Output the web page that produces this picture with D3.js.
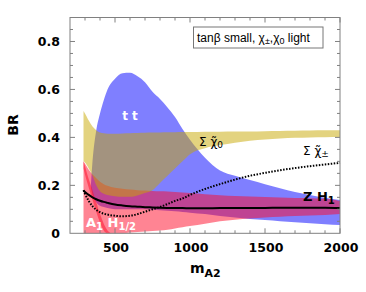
<!DOCTYPE html>
<html><head><meta charset="utf-8">
<script src="https://cdn.jsdelivr.net/npm/d3@7"></script>
<style>body{margin:0;background:#fff}svg{display:block}</style>
</head><body><svg id="c" width="366" height="292"></svg>
<script>
const masses   = [290,300,325,350,375,400,425,450,500,550,600,650,700,750,800,850,900,950,1000,1100,1200,1300,1400,1500,1600,1700,1800,1900,2000];
const ttMass   = [340,350,375,400,425,450,500,550,600,650,700,750,800,850,900,950,1000,1100,1200,1300,1400,1500,1600,1700,1800,1900,2000];
const ttLow    = [0.19,0.16,0.13,0.115,0.11,0.105,0.10,0.10,0.10,0.10,0.10,0.098,0.096,0.094,0.092,0.089,0.086,0.08,0.072,0.066,0.06,0.055,0.05,0.046,0.042,0.038,0.035];
const ttHigh   = [0.21,0.30,0.43,0.50,0.555,0.60,0.645,0.668,0.67,0.655,0.63,0.59,0.56,0.525,0.485,0.435,0.39,0.315,0.262,0.24,0.222,0.205,0.188,0.172,0.16,0.148,0.139];
const chi0Low  = [0.30,0.295,0.27,0.24,0.20,0.175,0.165,0.16,0.155,0.152,0.152,0.158,0.168,0.18,0.21,0.24,0.27,0.30,0.33,0.355,0.368,0.378,0.386,0.391,0.395,0.398,0.40,0.401,0.402];
const chi0High = [0.51,0.50,0.47,0.445,0.43,0.42,0.417,0.415,0.415,0.416,0.417,0.418,0.419,0.42,0.42,0.421,0.421,0.422,0.422,0.423,0.424,0.425,0.425,0.426,0.427,0.428,0.429,0.43,0.43];
const ah1Low   = [0.27,0.245,0.19,0.14,0.09,0.045,0.012,0,0,0,0.003,0.005,0.008,0.01,0.012,0.015,0.02,0.025,0.03,0.04,0.05,0.057,0.062,0.066,0.069,0.072,0.074,0.076,0.08];
const ah1High  = [0.30,0.29,0.265,0.245,0.23,0.215,0.205,0.198,0.19,0.186,0.183,0.18,0.178,0.176,0.175,0.174,0.172,0.17,0.168,0.163,0.159,0.156,0.153,0.151,0.149,0.147,0.146,0.144,0.135];
const ah2Mass  = [290,300,325,350,375,400,425,450,475];
const ah2High  = [0.30,0.28,0.225,0.18,0.13,0.08,0.04,0.012,0];
const zh1      = [0.178,0.172,0.16,0.15,0.142,0.136,0.131,0.127,0.12,0.116,0.113,0.111,0.109,0.108,0.107,0.106,0.105,0.105,0.104,0.104,0.105,0.105,0.106,0.106,0.107,0.107,0.107,0.107,0.105];
const chipm    = [0.18,0.165,0.135,0.113,0.098,0.088,0.082,0.078,0.073,0.071,0.073,0.08,0.09,0.10,0.11,0.122,0.135,0.145,0.16,0.185,0.205,0.224,0.24,0.252,0.263,0.272,0.28,0.287,0.294];
const xTicks = [500,1000,1500,2000];
const yTicks = [0,0.2,0.4,0.6,0.8];

const svg = d3.select("#c");
const x = d3.scaleLinear().domain([200,2000]).range([70,340]);
const y = d3.scaleLinear().domain([0,0.9]).range([233.3,17.5]);
const pts = (ms,lo,hi)=>ms.map((m,i)=>({m,lo:lo===0?0:lo[i],hi:hi[i]}));
const area = d3.area().x(d=>x(d.m)).y0(d=>y(d.lo)).y1(d=>y(d.hi)).curve(d3.curveMonotoneX);

svg.append("path").datum(pts(ttMass,ttLow,ttHigh)).attr("d",area).attr("fill","#0000ff").attr("fill-opacity",0.5);
svg.append("path").datum(pts(ah2Mass,0,ah2High)).attr("d",area).attr("fill","#ff0a28").attr("fill-opacity",0.5);
svg.append("path").datum(pts(masses,ah1Low,ah1High)).attr("d",area).attr("fill","#ff0a28").attr("fill-opacity",0.5);
svg.append("path").datum(pts(masses,chi0Low,chi0High)).attr("d",area).attr("fill","#c8a800").attr("fill-opacity",0.5);

const line = d3.line().x((d,i)=>x(masses[i])).y(d=>y(d)).curve(d3.curveMonotoneX);
svg.append("path").datum(zh1).attr("d",line).attr("fill","none").attr("stroke","#000").attr("stroke-width",2);
svg.append("path").datum(chipm).attr("d",line).attr("fill","none").attr("stroke","#000").attr("stroke-width",2).attr("stroke-dasharray","1.5,1.5");

// frame
const g = svg.append("g");
g.append("rect").attr("x",70).attr("y",17.5).attr("width",270).attr("height",215.8).attr("fill","none").attr("stroke","#808080").attr("stroke-width",1);
const minorX = d3.range(300,2001,100), minorY = d3.range(0.05,0.9,0.05);
minorX.forEach(v=>{const L = v%500===0?5:3;
  g.append("line").attr("x1",x(v)).attr("x2",x(v)).attr("y1",233.3).attr("y2",233.3-L).attr("stroke","#808080");
  g.append("line").attr("x1",x(v)).attr("x2",x(v)).attr("y1",17.5).attr("y2",17.5+L).attr("stroke","#808080");});
minorY.forEach(v=>{const L = Math.abs(v*5-Math.round(v*5))<1e-6?5:3;
  g.append("line").attr("x1",70).attr("x2",70+L).attr("y1",y(v)).attr("y2",y(v)).attr("stroke","#808080");
  g.append("line").attr("x1",340).attr("x2",340-L).attr("y1",y(v)).attr("y2",y(v)).attr("stroke","#808080");});

const F = "DejaVu Sans, sans-serif";
xTicks.forEach(v=>svg.append("text").attr("x",x(v)+1).attr("y",252).attr("text-anchor","middle").attr("font-family",F).attr("font-weight","bold").attr("font-size",12.5).text(v));
yTicks.forEach(v=>svg.append("text").attr("x",60).attr("y",y(v)+4.5).attr("text-anchor","end").attr("font-family",F).attr("font-weight","bold").attr("font-size",12.5).text(v===0?"0":v.toFixed(1)));

svg.append("text").attr("transform","translate(18,125) rotate(-90)").attr("text-anchor","middle").attr("font-family",F).attr("font-weight","bold").attr("font-size",14).text("BR");
const xl = svg.append("text").attr("x",190).attr("y",273).attr("font-family",F).attr("font-weight","bold").attr("font-size",14);
xl.append("tspan").text("m");
xl.append("tspan").attr("dy",4).attr("font-size",11).text("A2");

// legend
svg.append("rect").attr("x",193.5).attr("y",27).attr("width",129.5).attr("height",21).attr("fill","#fff").attr("stroke","#777");
const lt = svg.append("text").attr("x",197).attr("y",42).attr("font-family","Liberation Sans, Arial, sans-serif").attr("font-size",12);
lt.append("tspan").text("tanβ small, χ");
lt.append("tspan").attr("dy",2).attr("font-size",9).text("±");
lt.append("tspan").attr("dy",-2).text(",χ");
lt.append("tspan").attr("dy",2).attr("font-size",9).text("0");
lt.append("tspan").attr("dy",-2).text(" light");

// labels
svg.append("text").attr("x",130).attr("y",120).attr("text-anchor","middle").attr("font-family",F).attr("font-weight","bold").attr("font-size",12).attr("fill","#fff").text("t t");
const ah = svg.append("text").attr("x",86).attr("y",227).attr("font-family",F).attr("font-weight","bold").attr("font-size",13).attr("fill","#fff");
ah.append("tspan").text("A");
ah.append("tspan").attr("dy",3).attr("font-size",10).text("1");
ah.append("tspan").attr("dy",-3).text(" H");
ah.append("tspan").attr("dy",3).attr("font-size",10).text("1/2");
const zl = svg.append("text").attr("x",303).attr("y",201).attr("font-family",F).attr("font-weight","bold").attr("font-size",13).attr("fill","#000");
zl.append("tspan").text("Z H");
zl.append("tspan").attr("dy",3).attr("font-size",10).text("1");
function chiLabel(px,py,sub){
  const t = svg.append("text").attr("x",px).attr("y",py).attr("font-family",F).attr("font-size",12);
  t.append("tspan").text("Σ χ\u0303");
  t.append("tspan").attr("dy",2).attr("font-size",9).text(sub);
}
chiLabel(199,146,"0");
chiLabel(303,155,"±");
</script></body></html>
